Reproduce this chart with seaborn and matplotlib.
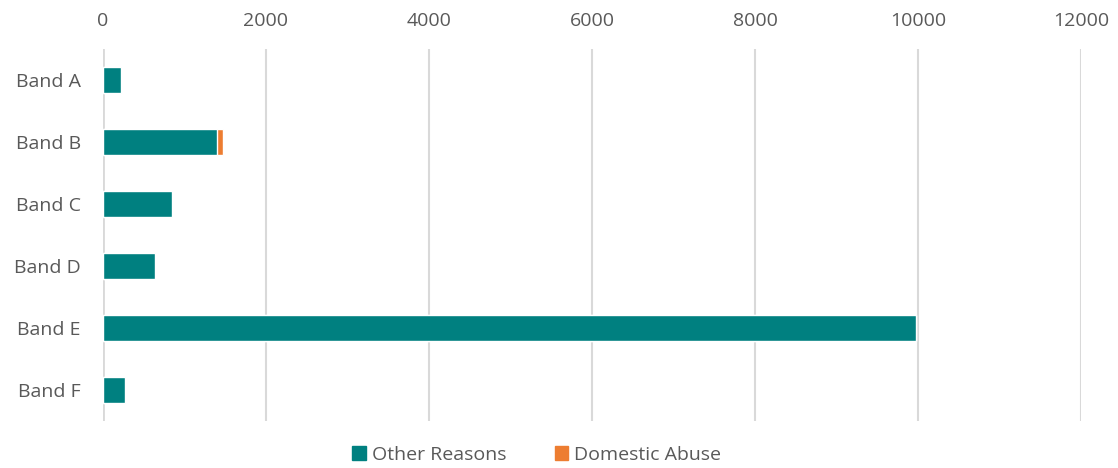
import matplotlib
matplotlib.use("Agg")
import matplotlib.pyplot as plt
import matplotlib.patches as mpatches
import seaborn as sns
import numpy as np
import pandas as pd

bands = ["Band A", "Band B", "Band C", "Band D", "Band E", "Band F"]
other_reasons = [217, 1403, 851, 638, 9980, 266]
domestic_abuse = [0, 70, 0, 0, 0, 0]

teal = "#008080"
orange = "#ED7D31"
text_col = "#595959"

sns.set_style("white")
plt.rcParams["font.family"] = ["Open Sans", "DejaVu Sans"]

df = pd.DataFrame({"band": bands, "other": other_reasons, "domestic": domestic_abuse})
df["total"] = df["other"] + df["domestic"]

fig = plt.figure(figsize=(11.18, 4.68), dpi=100)
ax = fig.add_axes([103 / 1118, 1 - 421 / 468, (1081 - 103) / 1118, (421 - 49) / 468])

# stacked: total in orange underneath, other reasons on top
sns.barplot(data=df, x="total", y="band", color=orange, width=0.41, ax=ax,
            saturation=1, orient="h", zorder=2)
sns.barplot(data=df, x="other", y="band", color=teal, width=0.41, ax=ax,
            saturation=1, orient="h", zorder=3)

ax.set_xlim(0, 12000)
ax.set_xticks(np.arange(0, 12001, 2000))
ax.xaxis.tick_top()
ax.tick_params(axis="x", length=0, labelsize=14, labelcolor=text_col, pad=14)
ax.tick_params(axis="y", length=0, labelsize=14, labelcolor=text_col, pad=16)
ax.set_xlabel("")
ax.set_ylabel("")
ax.grid(axis="x", color="#d9d9d9", linewidth=1.5, zorder=0)
ax.set_axisbelow(True)
for s in ax.spines.values():
    s.set_visible(False)
ax.axvline(0, color="#d9d9d9", linewidth=2, zorder=1)

handles = [mpatches.Patch(color=teal, label="Other Reasons"),
           mpatches.Patch(color=orange, label="Domestic Abuse")]
fig.legend(handles=handles, loc="center", bbox_to_anchor=(0.48, 1 - 455 / 468), ncol=2,
           frameon=False, fontsize=14, labelcolor=text_col, handlelength=0.7,
           handleheight=0.7, handletextpad=0.3, columnspacing=2.5)

fig.savefig("out.png", dpi=100)
